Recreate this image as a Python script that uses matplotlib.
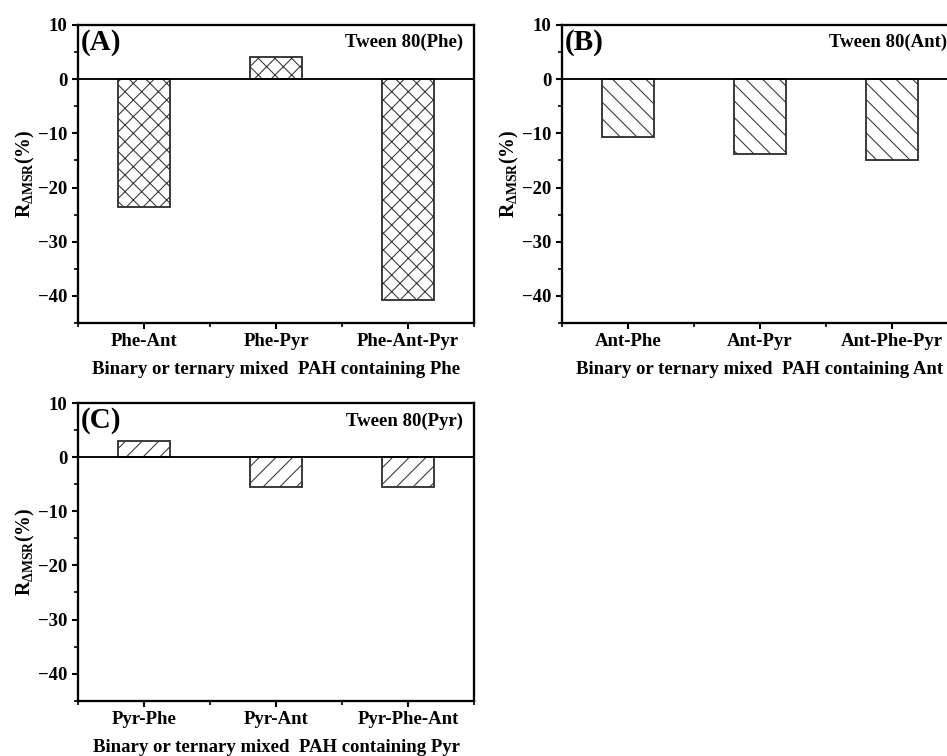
import matplotlib.pyplot as plt
import numpy as np
from matplotlib.ticker import MultipleLocator

plt.rcParams['font.family'] = ['Liberation Serif', 'DejaVu Serif']
plt.rcParams['font.weight'] = 'bold'
plt.rcParams['axes.labelweight'] = 'bold'
plt.rcParams['mathtext.fontset'] = 'custom'
plt.rcParams['mathtext.rm'] = 'Liberation Serif:bold'
plt.rcParams['mathtext.it'] = 'Liberation Serif:bold'
plt.rcParams['mathtext.bf'] = 'Liberation Serif:bold'
plt.rcParams['hatch.linewidth'] = 0.5

# panel data
labels_a = ["Phe-Ant", "Phe-Pyr", "Phe-Ant-Pyr"]
values_a = [-23.6, 4.0, -40.7]
labels_b = ["Ant-Phe", "Ant-Pyr", "Ant-Phe-Pyr"]
values_b = [-10.6, -13.9, -14.9]
labels_c = ["Pyr-Phe", "Pyr-Ant", "Pyr-Phe-Ant"]
values_c = [3.0, -5.6, -5.6]

yticks = [-40, -30, -20, -10, 0, 10]


def draw_panel(ax, labels, values, hatch, tag, title, xlabel):
    x = np.arange(len(labels))
    ax.bar(x, values, width=0.4, color='white', edgecolor='#333333',
           linewidth=0.9, hatch=hatch, zorder=2)
    ax.axhline(0, color='black', linewidth=0.9, zorder=3)
    ax.set_xlim(-0.5, len(labels) - 0.5)
    ax.set_ylim(-45, 10)
    ax.set_yticks(yticks)
    ax.set_yticklabels([str(t).replace('-', '\u2212') for t in yticks])
    ax.yaxis.set_minor_locator(MultipleLocator(5))
    ax.set_xticks(x)
    ax.set_xticklabels(labels)
    ax.set_xticks(np.arange(-0.5, len(labels), 1.0), minor=True)
    ax.tick_params(axis='both', which='major', direction='out', length=3,
                   width=1.0, labelsize=9, pad=2)
    ax.tick_params(axis='both', which='minor', direction='out', length=1.8,
                   width=0.8)
    for s in ax.spines.values():
        s.set_linewidth(1.1)
    ax.set_ylabel(r'R$_{\mathrm{\Delta MSR}}$(%)', fontsize=9.5, labelpad=0.5)
    ax.set_xlabel(xlabel, fontsize=9, labelpad=5)
    ax.text(0.008, 0.94, tag, transform=ax.transAxes, fontsize=14,
            ha='left', va='center')
    ax.text(0.972, 0.94, title, transform=ax.transAxes, fontsize=9,
            ha='right', va='center')


fig = plt.figure(figsize=(947 / 150, 756 / 150), dpi=150)
ax_a = fig.add_axes([0.0824, 0.5728, 0.4182, 0.3942])
ax_b = fig.add_axes([0.5935, 0.5728, 0.4182, 0.3942])
ax_c = fig.add_axes([0.0824, 0.0731, 0.4182, 0.3938])

draw_panel(ax_a, labels_a, values_a, 'xxx', '(A)', 'Tween 80(Phe)',
           'Binary or ternary mixed  PAH containing Phe')
draw_panel(ax_b, labels_b, values_b, '\\\\\\', '(B)', 'Tween 80(Ant)',
           'Binary or ternary mixed  PAH containing Ant')
draw_panel(ax_c, labels_c, values_c, '///', '(C)', 'Tween 80(Pyr)',
           'Binary or ternary mixed  PAH containing Pyr')

fig.savefig('out.png', dpi=150)
